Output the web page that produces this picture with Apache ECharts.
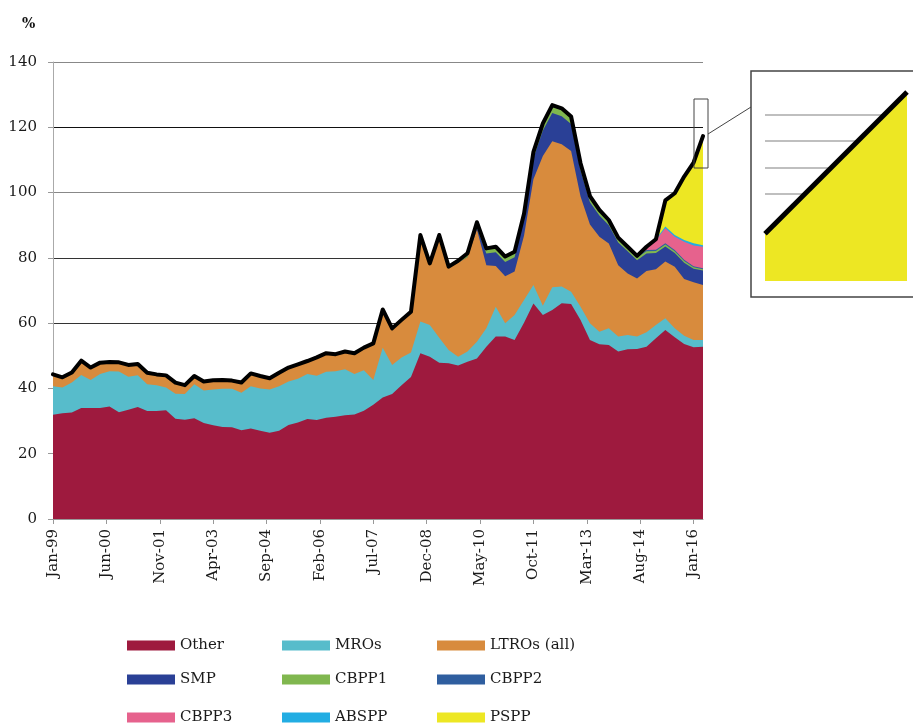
<!DOCTYPE html>
<html lang="en">
<head>
<meta charset="UTF-8">
<title>Composition of the balance sheet, % </title>
<script src="https://cdn.jsdelivr.net/npm/echarts@6/dist/echarts.min.js"></script>
<style>
  html, body { margin: 0; padding: 0; background: #fff; }
  #main { width: 913px; height: 724px; }
</style>
</head>
<body>
<div id="main"></div>
<script>
// x axis tick labels, one every 17 months from Jan-99
var tickLabels = ['Jan-99', 'Jun-00', 'Nov-01', 'Apr-03', 'Sep-04', 'Feb-06', 'Jul-07',
                  'Dec-08', 'May-10', 'Oct-11', 'Mar-13', 'Aug-14', 'Jan-16'];
var seriesNames = ['Other', 'MROs', 'LTROs (all)', 'SMP', 'CBPP1', 'CBPP2', 'CBPP3', 'ABSPP', 'PSPP'];
var seriesColors = ['#9e1a3e', '#57bccb', '#d88b3d', '#2a4096', '#80b74f', '#2f5e9f', '#e6628d', '#22ade3', '#ede723'];

// quarterly observations, Jan-99 .. Apr-16 (layer thickness, %)
var other = [
  31.9, 32.4, 32.6, 34.0, 34.0, 34.0, 34.5, 32.7, 33.5, 34.3,
  33.1, 33.1, 33.3, 30.7, 30.4, 30.9, 29.4, 28.7, 28.2, 28.1,
  27.2, 27.7, 27.0, 26.4, 27.0, 28.8, 29.6, 30.6, 30.3, 31.0,
  31.3, 31.8, 32.0, 33.2, 35.0, 37.2, 38.3, 41.0, 43.5, 50.8,
  49.7, 47.9, 47.7, 47.0, 48.2, 49.2, 52.8, 55.9, 55.9, 54.8,
  60.1, 66.0, 62.5, 64.0, 66.1, 65.9, 61.0, 54.8, 53.5, 53.3,
  51.3, 52.0, 52.1, 52.8, 55.4, 57.9, 55.7, 53.6, 52.6, 52.8
];
var mros = [
  8.8, 7.9, 9.2, 10.1, 8.6, 10.4, 10.8, 12.5, 10.1, 9.7,
  8.2, 7.9, 7.0, 7.7, 7.9, 10.4, 10.0, 11.0, 11.7, 11.8,
  11.5, 13.0, 13.0, 13.3, 13.7, 13.3, 13.4, 13.8, 13.6, 14.1,
  14.0, 14.1, 12.4, 12.4, 7.6, 15.3, 8.9, 8.5, 7.5, 9.7,
  9.7, 7.6, 4.1, 2.7, 3.1, 5.1, 5.6, 9.1, 4.1, 7.7,
  7.0, 5.7, 2.8, 7.0, 5.1, 3.7, 4.0, 5.2, 3.9, 5.1,
  4.6, 4.4, 3.8, 4.4, 4.0, 3.6, 2.7, 2.5, 2.2, 2.0
];
var ltros = [
  3.6, 3.1, 3.1, 4.4, 3.8, 3.5, 2.8, 2.8, 3.6, 3.5,
  3.5, 3.3, 3.7, 3.4, 2.7, 2.5, 2.7, 2.8, 2.7, 2.5,
  3.1, 3.9, 3.8, 3.4, 4.1, 4.3, 4.4, 4.0, 5.6, 5.7,
  5.2, 5.4, 6.4, 6.9, 11.2, 11.7, 11.2, 11.5, 12.5, 26.5,
  18.9, 31.5, 25.5, 28.8, 28.9, 34.4, 19.3, 12.5, 14.4, 13.3,
  19.7, 32.4, 45.9, 44.7, 43.6, 43.1, 33.8, 30.2, 29.1, 26.0,
  21.8, 18.8, 17.8, 18.8, 17.1, 17.4, 18.9, 17.4, 17.7, 16.9
];
var smp = [
  0, 0, 0, 0, 0, 0, 0, 0, 0, 0,
  0, 0, 0, 0, 0, 0, 0, 0, 0, 0,
  0, 0, 0, 0, 0, 0, 0, 0, 0, 0,
  0, 0, 0, 0, 0, 0, 0, 0, 0, 0,
  0, 0, 0, 0, 0, 0.6, 3.6, 4.2, 4.3, 4.4,
  5.0, 6.5, 7.8, 8.7, 8.6, 8.3, 8.0, 6.8, 6.5, 5.6,
  7.0, 6.8, 5.6, 5.3, 5.0, 4.6, 4.2, 5.0, 4.2, 4.4
];
var cbpp1 = [
  0, 0, 0, 0, 0, 0, 0, 0, 0, 0,
  0, 0, 0, 0, 0, 0, 0, 0, 0, 0,
  0, 0, 0, 0, 0, 0, 0, 0, 0, 0,
  0, 0, 0, 0, 0, 0, 0, 0, 0, 0,
  0, 0, 0, 0.6, 1.2, 1.6, 1.6, 1.7, 1.7, 1.7,
  1.7, 1.8, 1.9, 1.9, 1.9, 1.8, 1.7, 1.4, 1.2, 1.1,
  1.0, 0.9, 0.8, 0.7, 0.6, 0.6, 0.5, 0.5, 0.4, 0.4
];
var cbpp2 = [
  0, 0, 0, 0, 0, 0, 0, 0, 0, 0,
  0, 0, 0, 0, 0, 0, 0, 0, 0, 0,
  0, 0, 0, 0, 0, 0, 0, 0, 0, 0,
  0, 0, 0, 0, 0, 0, 0, 0, 0, 0,
  0, 0, 0, 0, 0, 0, 0, 0, 0, 0,
  0, 0.1, 0.3, 0.5, 0.5, 0.5, 0.5, 0.5, 0.5, 0.5,
  0.5, 0.5, 0.5, 0.4, 0.4, 0.4, 0.4, 0.4, 0.3, 0.3
];
var cbpp3 = [
  0, 0, 0, 0, 0, 0, 0, 0, 0, 0,
  0, 0, 0, 0, 0, 0, 0, 0, 0, 0,
  0, 0, 0, 0, 0, 0, 0, 0, 0, 0,
  0, 0, 0, 0, 0, 0, 0, 0, 0, 0,
  0, 0, 0, 0, 0, 0, 0, 0, 0, 0,
  0, 0, 0, 0, 0, 0, 0, 0, 0, 0,
  0, 0, 0, 1.0, 3.0, 4.6, 4.1, 5.5, 6.4, 6.6
];
var abspp = [
  0, 0, 0, 0, 0, 0, 0, 0, 0, 0,
  0, 0, 0, 0, 0, 0, 0, 0, 0, 0,
  0, 0, 0, 0, 0, 0, 0, 0, 0, 0,
  0, 0, 0, 0, 0, 0, 0, 0, 0, 0,
  0, 0, 0, 0, 0, 0, 0, 0, 0, 0,
  0, 0, 0, 0, 0, 0, 0, 0, 0, 0,
  0, 0, 0, 0, 0.2, 0.5, 0.5, 0.6, 0.7, 0.5
];
var pspp = [
  0, 0, 0, 0, 0, 0, 0, 0, 0, 0,
  0, 0, 0, 0, 0, 0, 0, 0, 0, 0,
  0, 0, 0, 0, 0, 0, 0, 0, 0, 0,
  0, 0, 0, 0, 0, 0, 0, 0, 0, 0,
  0, 0, 0, 0, 0, 0, 0, 0, 0, 0,
  0, 0, 0, 0, 0, 0, 0, 0, 0, 0,
  0, 0, 0, 0, 0, 8.0, 12.8, 19.4, 24.7, 33.4
];

var serif = '"DejaVu Serif", "Liberation Serif", serif';
var layers = [other, mros, ltros, smp, cbpp1, cbpp2, cbpp3, abspp, pspp];

// month index since Jan-99 for each quarterly point
var monthIdx = [];
for (var i = 0; i < other.length; i++) monthIdx.push(i * 3);
var n = monthIdx.length;
var lastMonth = monthIdx[n - 1];
var tickValues = tickLabels.map(function (l, k) { return k * 17; });

// running tops of the stack (layer k covers 0..cum[k]; drawn back to front)
var cum = [];
layers.forEach(function (arr, k) {
  cum.push(arr.map(function (v, i) {
    return Math.round(((k ? cum[k - 1][i] : 0) + v) * 10) / 10;
  }));
});
var total = cum[cum.length - 1];

var series = [];
for (var k = layers.length - 1; k >= 0; k--) {
  series.push({
    name: seriesNames[k],
    type: 'line',
    xAxisIndex: 0,
    yAxisIndex: 0,
    symbol: 'none',
    data: cum[k].map(function (v, i) { return [monthIdx[i], v]; }),
    itemStyle: { color: seriesColors[k] },
    lineStyle: { width: 0 },
    areaStyle: { color: seriesColors[k], opacity: 1, origin: 'start' },
    emphasis: { disabled: true },
    z: 2
  });
}
series.push({
  name: 'Total',
  type: 'line',
  xAxisIndex: 0,
  yAxisIndex: 0,
  symbol: 'none',
  data: total.map(function (v, i) { return [monthIdx[i], v]; }),
  lineStyle: { color: '#000', width: 4, join: 'round', cap: 'round' },
  emphasis: { disabled: true },
  z: 4
});

// zoomed detail of the last segment
series.push({
  name: 'detail',
  type: 'line',
  xAxisIndex: 1,
  yAxisIndex: 1,
  symbol: 'none',
  data: [[monthIdx[n - 2], total[n - 2]], [monthIdx[n - 1], total[n - 1]]],
  lineStyle: { color: '#000', width: 5 },
  areaStyle: { color: seriesColors[8], opacity: 1, origin: 'start' },
  emphasis: { disabled: true },
  z: 3
});

// inset grid lines: only four of the 0.5-step lines are drawn
var insetLineColors = [];
for (var j = 0; j <= 24; j++) {
  insetLineColors.push([10, 13, 16, 19].indexOf(j) >= 0 ? '#aaa' : 'rgba(0,0,0,0)');
}

var legends = seriesNames.map(function (name, k) {
  var col = k % 3, row = Math.floor(k / 3);
  return {
    data: [{ name: name, icon: 'rect', itemStyle: { color: seriesColors[k], borderWidth: 0 } }],
    left: 127 + col * 155,
    top: [638, 672, 710][row],
    padding: 0,
    itemWidth: 48,
    itemHeight: 10,
    selectedMode: false,
    textStyle: { fontFamily: serif, fontSize: 15, color: '#1a1a1a' }
  };
});

var option = {
  animation: false,
  backgroundColor: '#fff',
  title: {
    text: '%', left: 17, top: 12,
    textStyle: { fontFamily: serif, fontSize: 14, fontWeight: 'bold', color: '#111' }
  },
  legend: legends,
  grid: [
    { left: 53, top: 62, width: 650, height: 457, outerBoundsMode: 'none' },
    { left: 765, top: 71, width: 142, height: 210, outerBoundsMode: 'none' }
  ],
  xAxis: [{
    type: 'value',
    gridIndex: 0,
    min: 0,
    max: lastMonth,
    axisLine: { lineStyle: { color: '#999', width: 1 } },
    axisTick: { show: true, length: 5, customValues: tickValues, lineStyle: { color: '#999' } },
    axisLabel: {
      customValues: tickValues,
      rotate: 90,
      margin: 10,
      fontFamily: serif,
      fontSize: 15,
      color: '#1a1a1a',
      formatter: function (v) { return tickLabels[Math.round(v / 17)] || ''; }
    },
    splitLine: { show: false }
  }, {
    type: 'value',
    gridIndex: 1,
    min: monthIdx[n - 2],
    max: lastMonth,
    show: false
  }],
  yAxis: [{
    type: 'value',
    gridIndex: 0,
    min: 0,
    max: 140,
    interval: 20,
    axisLine: { show: true, lineStyle: { color: '#aaa', width: 1 } },
    axisTick: { show: true, length: 5, lineStyle: { color: '#999' } },
    axisLabel: { margin: 16, fontFamily: serif, fontSize: 15, color: '#1a1a1a' },
    splitLine: {
      show: true,
      lineStyle: { color: ['#888', '#333', '#333', '#333', '#333', '#888', '#111', '#888'], width: 1 }
    }
  }, {
    type: 'value',
    gridIndex: 1,
    min: 106.5,
    max: 118.5,
    interval: 0.5,
    axisLine: { show: false },
    axisTick: { show: false },
    axisLabel: { show: false },
    splitLine: { show: true, lineStyle: { color: insetLineColors, width: 1.5 } }
  }],
  graphic: [
    { type: 'rect', z: 20, shape: { x: 694, y: 99, width: 14, height: 69 },
      style: { fill: 'none', stroke: '#444', lineWidth: 1 } },
    { type: 'line', z: 20, shape: { x1: 708, y1: 134, x2: 751, y2: 107 },
      style: { stroke: '#444', lineWidth: 1 } },
    { type: 'rect', z: 20, shape: { x: 751, y: 71, width: 175, height: 226 },
      style: { fill: 'none', stroke: '#444', lineWidth: 1.5 } }
  ],
  series: series
};

var chart = echarts.init(document.getElementById('main'));
chart.setOption(option);
</script>
</body>
</html>
